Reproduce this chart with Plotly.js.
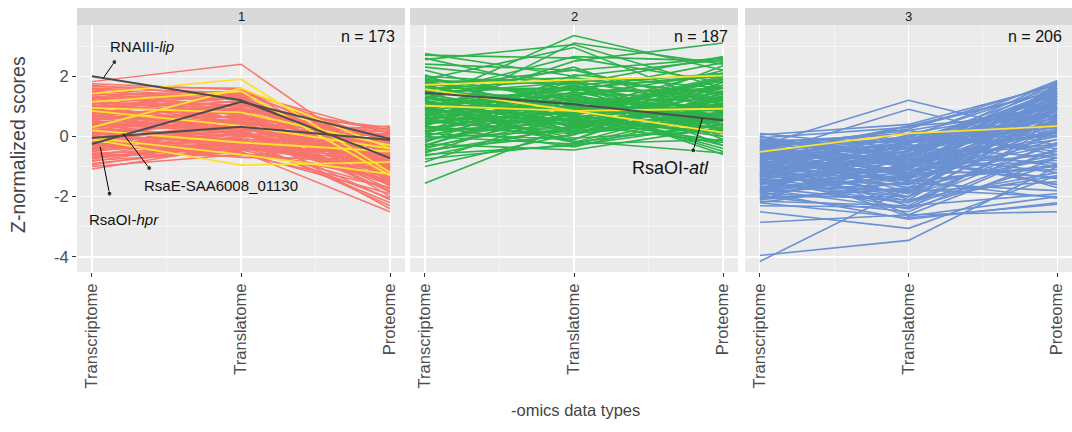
<!DOCTYPE html>
<html>
<head>
<meta charset="utf-8">
<script src="https://cdn.plot.ly/plotly-3.0.1.min.js"></script>
<style>html,body{margin:0;padding:0;background:#fff;}#chart{width:1072px;height:432px;}</style>
</head>
<body>
<div id="chart"></div>
<script>
// -omics data types (x categories)
const categories = ["Transcriptome", "Translatome", "Proteome"];
const panels = ["1", "2", "3"];
const panelCounts = [173, 187, 206];

// Cluster 1 background profiles (Transcriptome, Translatome, Proteome)
const c1_T = [1.82,1.75,1.70,1.60,1.55,1.50,1.45,1.40,1.35,1.30,1.25,1.20,1.15,1.10,1.05,1.00,0.95,0.90,0.85,0.80,0.75,0.70,0.65,0.60,0.55,0.50,0.45,0.40,0.35,0.30,0.25,0.20,0.15,0.10,0.05,0.00,-0.05,-0.10,-0.15,-0.20,-0.25,-0.30,-0.35,-0.40,-0.45,-0.50,-0.55,-0.60,-0.65,-0.70,-0.75,-0.80,-0.90,-1.00,-1.08,1.65,1.38,0.98,0.62,0.28,-0.08,-0.38,1.22,0.88,0.48,0.12,-0.22,0.72,1.48,0.38,-0.58,1.05,0.18,-0.45,0.58,
  1.30,1.10,0.90,0.70,0.50,0.30,0.10,-0.10,-0.30,-0.50,-0.70,1.45,1.15,0.82,0.52,0.22,-0.12,-0.42,-0.82,1.58,0.68,0.02,-0.28,0.95,0.42,-0.62,1.28,-0.95,0.32,0.78];
const c1_L = [2.40,1.55,1.30,1.45,1.10,1.20,0.95,1.35,0.80,1.00,1.25,0.70,0.90,1.05,0.60,0.85,1.15,0.50,0.75,0.40,0.95,0.30,0.65,0.20,0.80,0.45,0.10,0.55,0.25,0.70,0.00,0.35,-0.10,0.50,0.15,-0.20,0.40,0.05,-0.30,0.20,-0.15,0.10,-0.40,-0.05,-0.25,0.00,-0.45,-0.20,-0.55,-0.35,-0.10,-0.50,-0.40,-0.60,-0.30,1.60,1.50,1.40,1.20,0.95,0.75,0.60,0.35,0.15,-0.35,-0.55,-0.70,0.05,0.55,-0.15,-0.65,0.25,0.85,0.30,1.05,
  1.40,0.60,1.30,0.90,0.20,0.50,-0.30,0.30,-0.35,0.15,-0.25,0.85,1.45,0.60,1.10,0.05,-0.45,0.45,-0.10,1.25,0.45,0.60,-0.60,0.05,0.90,0.10,0.75,-0.20,-0.45,1.30];
const c1_P = [-1.05,-0.20,-0.60,0.10,-0.40,-0.90,-0.10,-1.50,-0.30,0.20,-0.70,-1.10,0.00,-0.50,-1.30,0.30,-0.80,-0.20,-1.60,0.15,-0.45,-1.00,-0.05,-1.40,-0.65,0.25,-0.85,-1.75,-0.35,-1.20,0.05,-0.95,-1.50,-0.25,-2.10,-0.70,-1.30,0.10,-1.05,-1.80,-0.50,-1.40,-0.15,-2.30,-0.80,-1.60,-0.35,-1.15,-1.90,-0.60,-1.45,-2.50,-1.00,-1.70,-0.90,-1.20,-0.55,-1.35,-0.15,-2.00,-1.10,-0.40,-0.95,-1.55,-0.60,-1.25,-0.75,0.35,-1.85,-2.20,-0.20,-0.75,-1.65,-2.40,0.22,
  -0.20,-0.90,-0.60,-1.40,-0.10,-0.70,-1.20,-0.40,-1.70,-0.90,-1.30,-0.45,-1.00,0.05,-1.15,-0.55,-1.45,-1.00,-0.30,-1.60,-1.85,0.15,-0.95,-1.05,-0.25,-1.55,-1.35,-2.05,-0.05,-0.85];
// Cluster 1 highlighted (yellow) profiles
const c1_hiT = [1.42,0.30,1.15,0.95,0.20,-0.05,-0.10,0.85];
const c1_hiL = [1.90,1.60,1.50,0.80,-0.20,-0.60,-0.95,0.35];
const c1_hiP = [-1.20,-0.40,-1.30,-0.30,-0.50,-1.25,-0.85,-0.40];
// Cluster 1 labelled (dark) profiles
const c1_lbT = [2.00,-0.25,-0.05];
const c1_lbL = [1.20,1.15,0.32];
const c1_lbP = [-0.72,-0.08,-0.12];

// Cluster 2 background profiles
const c2_T = [2.75,2.70,2.60,2.55,2.40,2.30,-1.55,1.20,0.60,1.90,1.40,0.90,2.00,1.95,1.85,1.80,1.75,1.70,1.60,1.55,1.50,1.45,1.40,1.30,1.25,1.20,1.15,1.10,1.05,1.00,0.95,0.90,0.85,0.80,0.75,0.70,0.65,0.60,0.55,0.50,0.45,0.40,0.35,0.30,0.25,0.20,0.15,0.10,0.05,0.00,-0.05,-0.15,-0.25,-0.35,-0.45,-0.55,-0.65,-0.75,-0.85,-1.00,2.20,1.65,1.35,0.95,0.15,1.85,0.50,1.25,-0.30,2.05,0.75,-0.60,1.60,0.35,1.00,
  1.90,1.70,1.50,1.30,1.10,0.90,0.70,0.50,0.30,0.10,-0.10,-0.30,-0.50,1.80,1.60,1.40,1.20,1.00,0.80,0.60,0.40,0.20,0.00,-0.20,-0.40,1.55,1.15,0.85,0.45,1.75];
const c2_L = [2.00,2.60,1.50,3.05,2.20,1.80,0.40,3.35,3.10,2.95,2.65,2.50,1.70,1.20,0.80,1.95,1.40,0.60,1.60,0.95,1.25,0.30,1.80,0.70,1.10,0.10,1.55,0.50,0.90,1.35,0.20,1.70,0.75,1.15,-0.20,1.45,0.40,1.00,1.90,0.15,0.85,1.25,-0.35,0.60,1.05,0.30,1.50,-0.10,0.70,1.20,0.20,0.90,-0.45,0.55,0.05,1.00,0.35,-0.25,0.80,0.10,1.00,2.20,0.45,-0.05,2.05,1.75,1.65,2.30,1.35,0.25,0.55,-0.30,0.75,1.85,-0.15,
  1.30,0.50,1.60,0.20,1.20,0.40,1.70,0.80,0.10,1.40,0.60,1.10,0.30,0.90,1.85,0.65,-0.20,1.60,0.90,-0.10,1.30,0.45,-0.25,1.70,0.80,1.05,0.35,1.45,0.55,0.15];
const c2_P = [2.55,1.80,2.45,1.60,2.60,1.20,1.10,2.20,2.40,1.00,2.50,3.10,2.10,0.60,1.90,1.40,0.20,1.60,2.00,-0.40,1.20,0.80,0.40,1.70,-0.60,1.00,1.50,0.30,2.20,0.70,1.30,0.00,1.85,0.50,1.10,1.60,-0.20,0.90,1.40,0.60,2.00,0.10,0.80,1.50,-0.50,1.20,0.40,1.70,0.00,1.00,0.65,1.45,0.30,0.90,1.80,0.50,1.25,-0.10,0.75,1.35,0.85,1.05,2.35,0.20,1.60,2.65,-0.30,0.55,2.10,1.50,0.15,0.40,1.15,0.95,-0.55,
  0.90,1.40,0.60,1.80,0.20,1.10,0.80,1.90,0.50,1.30,0.10,1.60,0.70,1.70,-0.10,1.00,0.40,2.05,-0.30,1.45,0.35,1.05,0.85,0.25,1.95,1.60,0.95,1.25,-0.15,0.55];
const c2_hiT = [1.71,1.57,1.02];
const c2_hiL = [1.88,0.84,0.85];
const c2_hiP = [2.02,0.13,0.92];
const c2_lbT = [1.45];
const c2_lbL = [1.07];
const c2_lbP = [0.54];

// Cluster 3 background profiles
const c3_T = [-3.95,-4.15,-2.85,-2.50,-2.20,-2.30,-0.30,-0.60,0.10,0.05,0.00,-0.05,-0.10,-0.15,-0.20,-0.25,-0.35,-0.40,-0.45,-0.50,-0.55,-0.60,-0.65,-0.70,-0.75,-0.80,-0.85,-0.90,-0.95,-1.00,-1.05,-1.10,-1.15,-1.20,-1.25,-1.30,-1.35,-1.40,-1.45,-1.50,-1.55,-1.60,-1.65,-1.70,-1.75,-1.80,-1.85,-1.90,-1.95,-2.00,-2.05,-2.10,-2.15,-0.20,-0.50,-1.00,-0.30,-0.85,-1.25,-0.10,-0.45,-1.60,-0.70,-1.40,-0.95,-2.00,-1.75,-0.35,-1.15,-0.55,-1.85,-0.15,-1.30,-2.20,-0.80,-1.55,-0.40,-1.00,-1.70,-0.25,
  -0.10,-0.30,-0.50,-0.70,-0.90,-1.10,-1.30,-1.50,-1.70,-1.90,-2.10,-0.20,-0.40,-0.60,-0.80,-1.00,-1.20,-1.40,-1.60,-1.80,-2.00,0.00,-0.35,-0.65,-1.05,-1.45,-1.85,-0.90,-1.25,-0.15,
  -0.60,-0.90,-1.20,-1.50,-0.30,-1.80,-0.75,-1.05,-0.45,-1.35];
const c3_L = [-3.45,-1.70,-2.60,-3.05,-2.70,-2.35,1.20,0.90,-0.40,0.40,-0.80,0.30,-0.20,-1.00,0.10,-0.60,-1.30,0.25,-0.90,-0.10,-1.50,-0.40,0.35,-1.10,-0.70,-0.20,-1.70,0.00,-1.20,-0.50,-1.90,-0.85,-0.30,-1.40,-2.00,-0.60,-1.00,-1.60,-0.15,-2.20,-1.20,-0.80,-1.80,-1.35,-2.40,-0.95,-1.55,-2.10,-1.25,-2.50,-1.75,-0.70,-2.30,-2.10,-2.60,-2.65,0.10,0.35,0.20,-0.55,-1.85,-0.35,-0.05,-1.05,-1.45,-1.00,-0.45,-0.90,-2.15,-0.25,-2.75,-1.60,-0.15,-1.50,-1.25,-2.00,-0.75,0.05,-0.60,-1.35,
  -0.70,-1.20,0.00,-1.60,-0.30,-1.90,-0.50,-1.30,-2.20,-0.90,-1.70,-0.20,-1.50,-0.80,-2.00,-0.10,-1.10,-2.40,-0.65,-1.40,-2.00,-1.05,0.20,-1.45,-0.75,-1.85,-0.20,-2.30,-0.40,-0.60,
  -0.40,-0.90,-0.60,-1.10,-0.15,-1.30,-0.25,-0.70,-1.00,-0.50];
const c3_P = [-1.00,-0.60,-2.50,-1.30,-2.25,-0.40,0.00,-0.30,1.85,1.70,1.60,1.50,0.60,1.20,-0.50,1.40,0.90,1.75,-0.10,1.10,0.30,1.55,0.70,-0.80,1.30,0.10,1.00,1.65,-0.30,0.80,1.45,0.20,-1.00,1.20,0.50,1.80,-0.60,0.95,0.40,-0.20,1.35,-1.40,0.60,1.10,-0.90,0.00,-1.80,0.75,-1.10,-0.40,-2.00,-1.60,0.25,-1.20,-0.70,-2.00,0.95,1.50,1.00,-0.90,-1.50,-0.70,1.85,1.60,-2.05,1.25,0.45,0.15,-1.30,-1.70,-2.20,0.70,0.85,-0.95,1.40,1.70,-0.25,0.35,-1.20,0.55,
  1.30,0.40,-0.40,1.10,0.00,0.90,1.55,-0.50,0.20,1.00,-0.70,1.60,-1.00,0.65,-0.20,1.25,-1.35,0.45,1.45,-0.10,1.15,0.75,-0.60,1.75,-1.60,0.95,0.30,-1.90,0.05,1.50,
  1.05,1.35,0.85,1.15,0.70,0.60,1.45,0.50,0.95,1.20];
const c3_hiT = [-0.51];
const c3_hiL = [0.10];
const c3_hiP = [0.34];

// Labelled genes
const labelNames = ["RNAIII-<i>lip</i>", "RsaE-SAA6008_01130", "RsaOI-<i>hpr</i>", "RsaOI-<i>atl</i>"];

const panelColors = ["#F8766D", "#2DB34A", "#6B91D2"];
const hiColor = "#FFE02E";
const lbColor = "#4D4D4D";

function profileTrace(T, L, P, axisIdx, color, width) {
  const x = [], y = [];
  for (let i = 0; i < T.length; i++) {
    x.push(0, 1, 2, null);
    y.push(T[i], L[i], P[i], null);
  }
  const suffix = axisIdx === 1 ? "" : String(axisIdx);
  return {
    type: "scatter", mode: "lines", x: x, y: y,
    xaxis: "x" + suffix, yaxis: "y" + suffix,
    line: {color: color, width: width}, connectgaps: false,
    hoverinfo: "skip", showlegend: false
  };
}

function pointer(x0, y0, x1, y1, axisIdx) {
  const suffix = axisIdx === 1 ? "" : String(axisIdx);
  return {
    type: "scatter", mode: "lines+markers", x: [x0, x1], y: [y0, y1],
    xaxis: "x" + suffix, yaxis: "y" + suffix,
    line: {color: "#000", width: 1},
    marker: {color: "#000", size: [5, 0]},
    hoverinfo: "skip", showlegend: false
  };
}

const traces = [
  profileTrace(c1_T, c1_L, c1_P, 1, panelColors[0], 1.5),
  profileTrace(c2_T, c2_L, c2_P, 2, panelColors[1], 1.6),
  profileTrace(c3_T, c3_L, c3_P, 3, panelColors[2], 1.6),
  profileTrace(c1_hiT, c1_hiL, c1_hiP, 1, hiColor, 1.8),
  profileTrace(c2_hiT, c2_hiL, c2_hiP, 2, hiColor, 1.8),
  profileTrace(c3_hiT, c3_hiL, c3_hiP, 3, hiColor, 1.8),
  profileTrace(c1_lbT, c1_lbL, c1_lbP, 1, lbColor, 2),
  profileTrace(c2_lbT, c2_lbL, c2_lbP, 2, lbColor, 2),
  pointer(0.151, 2.47, 0.078, 1.95, 1),
  pointer(0.384, -1.05, 0.208, 0.10, 1),
  pointer(0.118, -1.90, 0.056, -0.35, 1),
  pointer(1.800, -0.46, 1.861, 0.60, 2)
];

const W = 1072, H = 432;
const xDomPx = [[77, 405], [410, 738], [745, 1072]];
const yTopPx = 25, yBotPx = 272, stripTopPx = 8;
const yDom = [1 - yBotPx / H, 1 - yTopPx / H];
const tickFont = {family: "Liberation Sans, Arial, sans-serif", size: 16.5, color: "#4D4D4D"};

function xAxis(i) {
  return {
    domain: [xDomPx[i][0] / W, xDomPx[i][1] / W],
    range: [-0.1, 2.1], anchor: i === 0 ? "y" : "y" + (i + 1),
    tickmode: "array", tickvals: [0, 1, 2], ticktext: categories,
    tickangle: -90, tickfont: tickFont,
    ticks: "outside", ticklen: 4, tickcolor: "#333", tickwidth: 1,
    showgrid: true, gridcolor: "#FFFFFF", gridwidth: 1.2,
    minor: {tickmode: "array", tickvals: [0.5, 1.5], showgrid: true, gridcolor: "#FFFFFF", gridwidth: 0.5, ticks: ""},
    zeroline: false, showline: false, fixedrange: true
  };
}
function yAxis(i) {
  return {
    domain: yDom, range: [-4.5, 3.7], anchor: i === 0 ? "x" : "x" + (i + 1),
    tickmode: "array", tickvals: [-4, -2, 0, 2], ticktext: ["-4", "-2", "0", "2"],
    showticklabels: i === 0, tickfont: tickFont,
    ticks: i === 0 ? "outside" : "", ticklen: 4, tickcolor: "#333", tickwidth: 1,
    showgrid: true, gridcolor: "#FFFFFF", gridwidth: 1.2,
    minor: {tickmode: "array", tickvals: [-3, -1, 1, 3], showgrid: true, gridcolor: "#FFFFFF", gridwidth: 0.5, ticks: ""},
    zeroline: false, showline: false, fixedrange: true
  };
}

const shapes = [];
const annotations = [];
const labFont = {family: "Liberation Sans, Arial, sans-serif", color: "#111"};
for (let i = 0; i < 3; i++) {
  shapes.push({type: "rect", xref: "paper", yref: "paper",
    x0: xDomPx[i][0] / W, x1: xDomPx[i][1] / W,
    y0: 1 - yTopPx / H, y1: 1 - stripTopPx / H,
    fillcolor: "#D9D9D9", line: {width: 0}, layer: "below"});
  annotations.push({xref: "paper", yref: "paper",
    x: (xDomPx[i][0] + xDomPx[i][1]) / 2 / W, y: 1 - (stripTopPx + yTopPx) / 2 / H,
    text: panels[i], showarrow: false, xanchor: "center", yanchor: "middle",
    font: {family: "Liberation Sans, Arial, sans-serif", size: 13, color: "#1A1A1A"}});
  const sfx = i === 0 ? "" : String(i + 1);
  annotations.push({xref: "x" + sfx + " domain", yref: "y" + sfx,
    x: 0.975, y: 3.31, text: "n = " + panelCounts[i], showarrow: false,
    xanchor: "right", yanchor: "middle", font: Object.assign({size: 16}, labFont)});
}
annotations.push(
  {xref: "x", yref: "y", x: 0.337, y: 3.0, text: labelNames[0], showarrow: false, xanchor: "center", yanchor: "middle", font: Object.assign({size: 15}, labFont)},
  {xref: "x", yref: "y", x: 0.866, y: -1.62, text: labelNames[1], showarrow: false, xanchor: "center", yanchor: "middle", font: Object.assign({size: 15}, labFont)},
  {xref: "x", yref: "y", x: 0.213, y: -2.76, text: labelNames[2], showarrow: false, xanchor: "center", yanchor: "middle", font: Object.assign({size: 15}, labFont)},
  {xref: "x2", yref: "y2", x: 1.65, y: -1.06, text: labelNames[3], showarrow: false, xanchor: "center", yanchor: "middle", font: Object.assign({size: 18}, labFont)},
  {xref: "paper", yref: "paper", x: 18 / W, y: 1 - 145 / H, text: "Z-normalized scores", textangle: -90,
    showarrow: false, xanchor: "center", yanchor: "middle",
    font: {family: "Liberation Sans, Arial, sans-serif", size: 19.5, color: "#444"}},
  {xref: "paper", yref: "paper", x: 575 / W, y: 1 - 410 / H, text: "-omics data types",
    showarrow: false, xanchor: "center", yanchor: "middle",
    font: {family: "Liberation Sans, Arial, sans-serif", size: 16.5, color: "#444"}}
);

const layout = {
  width: W, height: H,
  margin: {l: 0, r: 0, t: 0, b: 0, pad: 0},
  paper_bgcolor: "#FFFFFF", plot_bgcolor: "#EBEBEB",
  showlegend: false,
  xaxis: xAxis(0), xaxis2: xAxis(1), xaxis3: xAxis(2),
  yaxis: yAxis(0), yaxis2: yAxis(1), yaxis3: yAxis(2),
  shapes: shapes, annotations: annotations
};

Plotly.newPlot("chart", traces, layout, {staticPlot: true, displayModeBar: false});
</script>
</body>
</html>
